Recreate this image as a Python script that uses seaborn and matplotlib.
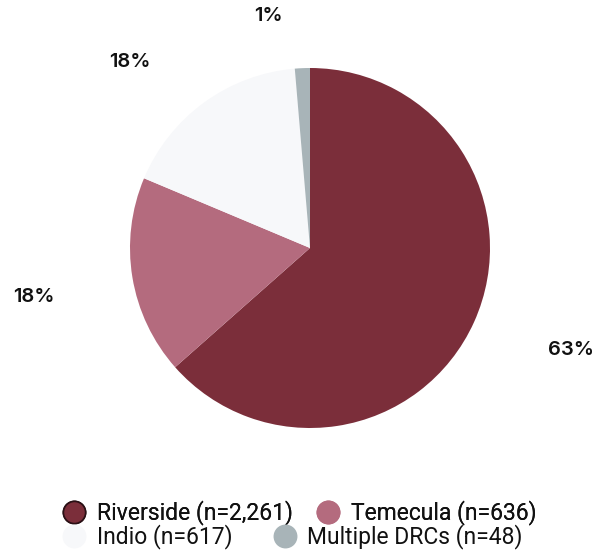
import matplotlib
matplotlib.use("Agg")
import matplotlib.pyplot as plt
from matplotlib.lines import Line2D
import seaborn as sns

# Client counts by Disability Resource Center
centers = ["Riverside", "Temecula", "Indio", "Multiple DRCs"]
counts = [2261, 636, 617, 48]
pct_labels = [63, 18, 18, 1]
colors = ["#7b2e3a", "#b46b7e", "#f7f8fa", "#a8b4b8"]

sns.set_theme(style="white")
plt.rcParams["font.family"] = ["Roboto", "DejaVu Sans"]

fig = plt.figure(figsize=(6.10, 5.52), dpi=100)
W, H = 610, 552
cx, cy, r = 310, 248, 180
ax = fig.add_axes([(cx - r) / W, 1 - (cy + r) / H, 2 * r / W, 2 * r / H])

wedges, _ = ax.pie(counts, colors=colors, startangle=90, counterclock=False,
                   radius=1.0, wedgeprops=dict(linewidth=0))
ax.set_xlim(-1, 1)
ax.set_ylim(-1, 1)
ax.set_aspect("equal")
ax.axis("off")

# percentage labels placed around the pie
label_pos = [(1.45, -0.567), (-1.535, -0.272), (-1.0, 1.033), (-0.233, 1.29)]
for p, (x, y) in zip(pct_labels, label_pos):
    ax.text(x, y, f"{p}%", ha="center", va="center", fontsize=14.5,
            fontweight="semibold", color="#111111", clip_on=False,
            family=["Inter", "DejaVu Sans"])

def handle(i, edge=None):
    return Line2D([], [], linestyle="none", marker="o", markersize=16,
                  markerfacecolor=colors[i],
                  markeredgecolor=edge if edge else colors[i],
                  markeredgewidth=1.2)

names = [f"{c} (n={n:,})" for c, n in zip(centers, counts)]

common = dict(ncol=2, loc="center left", frameon=False, fontsize=16.5,
              handletextpad=0.5, handlelength=1.0, borderpad=0,
              borderaxespad=0)
row1 = fig.legend([handle(0, "#2a1015"), handle(1)], names[:2],
                  bbox_to_anchor=(63 / W, 1 - 513 / H), columnspacing=1.0,
                  **common)
row2 = fig.legend([handle(2), handle(3)], names[2:],
                  bbox_to_anchor=(63 / W, 1 - 537 / H), columnspacing=1.75,
                  **common)
fig.add_artist(row1)
for leg in (row1, row2):
    for t in leg.get_texts():
        t.set_color("#111111")

fig.savefig("out.png", dpi=100, facecolor="white")
